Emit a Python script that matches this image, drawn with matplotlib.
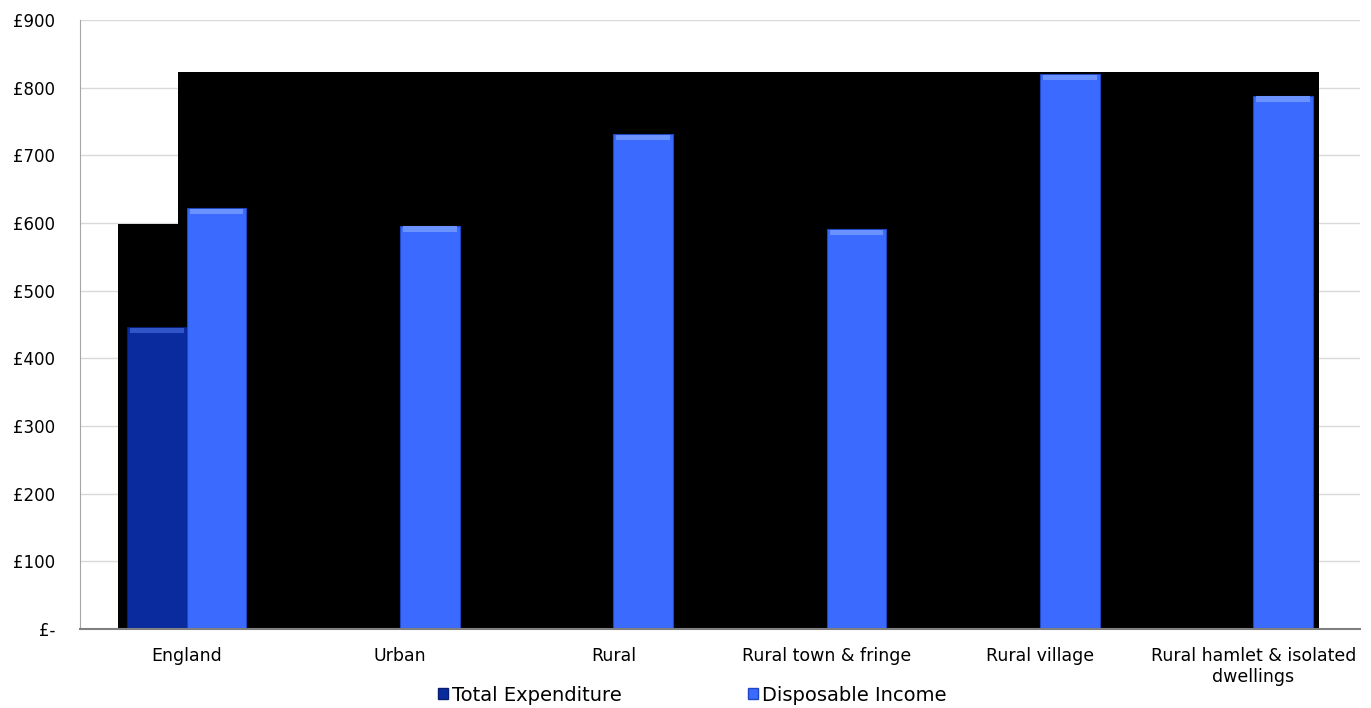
import numpy as np
import matplotlib.pyplot as plt
from matplotlib.patches import Patch

# data
categories = ["England", "Urban", "Rural", "Rural town & fringe", "Rural village",
              "Rural hamlet & isolated\ndwellings"]
total_expenditure = [446, np.nan, np.nan, np.nan, np.nan, np.nan]
disposable_income = [622, 596, 731, 591, 820, 788]

# black block drawn behind the bars in the original
shadow_x = [-0.32, -0.04, 5.31]
shadow_top = [598, 823, 823]

col_te = "#0A2B9E"
col_di = "#3A6BFE"

plt.rcParams['font.family'] = ['DejaVu Sans']

fig = plt.figure(figsize=(13.71, 7.08), dpi=100)
ax = fig.add_axes([0.0584, 0.1116, 0.9336, 0.8602])

x = np.arange(len(categories))
w = 0.28

ax.fill_between(shadow_x, 0, shadow_top, step="post", color="black", zorder=1, linewidth=0)

ax.bar(x - w / 2, total_expenditure, w, color=col_te, edgecolor="#061d70", linewidth=0.8, zorder=2)
ax.bar(x + w / 2, disposable_income, w, color=col_di, edgecolor="#1f47c0", linewidth=0.8, zorder=2)

# lighter bevel strip at the top of each bar
te = np.array(total_expenditure, dtype=float)
di = np.array(disposable_income, dtype=float)
ax.bar(x - w / 2, np.full(len(x), 8.0), w * 0.9, bottom=te - 9, color="#2f55c8", linewidth=0, zorder=3)
ax.bar(x + w / 2, np.full(len(x), 8.0), w * 0.9, bottom=di - 9, color="#6b93ff", linewidth=0, zorder=3)

ax.set_xlim(-0.5, len(categories) - 0.5)
ax.set_ylim(0, 900)
ax.set_yticks(range(0, 901, 100))
ax.set_yticklabels(["£-"] + [f"£{v}" for v in range(100, 901, 100)])
ax.set_xticks(x)
ax.set_xticklabels(categories)

ax.grid(axis="y", color="#D9D9D9", linewidth=1, zorder=0)
ax.set_axisbelow(True)
for s in ["top", "right"]:
    ax.spines[s].set_visible(False)
ax.spines["left"].set_color("#A6A6A6")
ax.spines["bottom"].set_color("#808080")
ax.spines["bottom"].set_linewidth(1.5)
ax.spines["bottom"].set_zorder(4)
ax.tick_params(axis="y", length=0, pad=18, labelsize=12)
ax.tick_params(axis="x", length=0, pad=13, labelsize=12.5)

handles = [Patch(facecolor=col_te, edgecolor="#061d70"), Patch(facecolor=col_di, edgecolor="#1f47c0")]
fig.legend(handles, ["Total Expenditure", "Disposable Income"], loc="lower center",
           bbox_to_anchor=(0.505, -0.02), ncol=2, frameon=False, fontsize=14,
           handlelength=0.5, handleheight=0.5, handletextpad=0.2, columnspacing=6.5)

fig.savefig("out.png", dpi=100)
